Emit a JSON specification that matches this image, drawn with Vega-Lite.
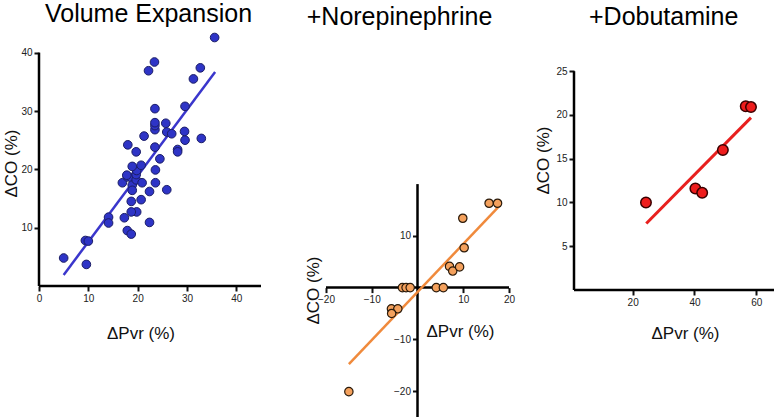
{
  "$schema": "https://vega.github.io/schema/vega-lite/v6.json",
  "padding": {"left": 2, "top": 2, "right": 0, "bottom": 0},
  "spacing": 65,
  "bounds": "flush",
  "config": {
    "view": {"stroke": null},
    "font": "Liberation Sans",
    "axis": {"grid": false, "domain": false, "tickColor": "#111", "tickWidth": 2, "tickSize": 5, "labelFontSize": 10, "labelColor": "#222", "labelPadding": 2, "labelFlush": false, "labelOverlap": false, "titleFontSize": 17, "titleFontWeight": "normal", "titleColor": "#111", "titleFont": "Liberation Sans", "labelFont": "Liberation Sans"}
  },
  "datasets": {
    "ve": [
      {"x": 5.0, "y": 4.8}, {"x": 9.4, "y": 7.8}, {"x": 10.0, "y": 7.7}, {"x": 9.6, "y": 3.7},
      {"x": 14.1, "y": 11.8}, {"x": 14.1, "y": 10.8}, {"x": 17.3, "y": 11.7}, {"x": 17.9, "y": 9.5},
      {"x": 18.7, "y": 8.9}, {"x": 19.8, "y": 12.7}, {"x": 18.7, "y": 12.7}, {"x": 18.7, "y": 14.5},
      {"x": 20.7, "y": 14.8}, {"x": 22.4, "y": 10.9}, {"x": 22.4, "y": 16.2}, {"x": 25.9, "y": 16.5},
      {"x": 16.9, "y": 17.7}, {"x": 17.9, "y": 18.7}, {"x": 18.7, "y": 18.6}, {"x": 18.9, "y": 17.3},
      {"x": 18.9, "y": 16.4}, {"x": 19.7, "y": 18.2}, {"x": 19.7, "y": 19.1}, {"x": 19.8, "y": 19.8},
      {"x": 18.9, "y": 20.5}, {"x": 20.7, "y": 20.7}, {"x": 20.9, "y": 17.7}, {"x": 17.8, "y": 19.0},
      {"x": 18.0, "y": 24.2}, {"x": 19.7, "y": 23.0}, {"x": 21.3, "y": 25.7}, {"x": 23.6, "y": 19.9},
      {"x": 23.6, "y": 17.7}, {"x": 24.5, "y": 21.8}, {"x": 23.5, "y": 23.8}, {"x": 23.5, "y": 26.8},
      {"x": 23.5, "y": 27.5}, {"x": 23.5, "y": 28.0}, {"x": 23.5, "y": 30.4}, {"x": 25.7, "y": 27.9},
      {"x": 25.9, "y": 26.4}, {"x": 26.9, "y": 26.1}, {"x": 28.1, "y": 23.4}, {"x": 28.1, "y": 23.0},
      {"x": 29.5, "y": 26.5}, {"x": 29.6, "y": 25.0}, {"x": 29.6, "y": 30.8}, {"x": 32.9, "y": 25.3},
      {"x": 31.3, "y": 35.5}, {"x": 32.7, "y": 37.4}, {"x": 22.2, "y": 36.9}, {"x": 23.4, "y": 38.4},
      {"x": 35.6, "y": 42.6}
    ],
    "veLine": [{"x": 5.0, "y": 1.9}, {"x": 35.7, "y": 36.7}],
    "ne": [
      {"x": 15.65, "y": 16.3}, {"x": 17.5, "y": 16.3}, {"x": 9.9, "y": 13.4}, {"x": 10.2, "y": 7.7},
      {"x": 7.0, "y": 4.1}, {"x": 7.7, "y": 3.2}, {"x": 9.2, "y": 4.0}, {"x": 4.1, "y": 0},
      {"x": 5.65, "y": 0}, {"x": -3.3, "y": 0}, {"x": -2.5, "y": 0}, {"x": -1.6, "y": 0},
      {"x": -5.7, "y": -4.1}, {"x": -4.3, "y": -4.1}, {"x": -5.65, "y": -5.0}, {"x": -15.0, "y": -20.1}
    ],
    "neLine": [{"x": -15.0, "y": -14.8}, {"x": 17.6, "y": 15.5}],
    "dob": [
      {"x": 24.3, "y": 10.0}, {"x": 40.3, "y": 11.6}, {"x": 42.5, "y": 11.1},
      {"x": 49.2, "y": 16.0}, {"x": 56.6, "y": 21.0}, {"x": 58.3, "y": 20.9}
    ],
    "dobLine": [{"x": 24.4, "y": 7.6}, {"x": 58.3, "y": 19.7}]
  },
  "hconcat": [
    {
      "width": 222,
      "height": 252,
      "title": {"text": "Volume Expansion", "fontSize": 25, "fontWeight": "normal", "font": "Liberation Sans", "baseline": "alphabetic", "offset": -16.1, "dx": -1.5, "anchor": "middle", "color": "#000"},
      "layer": [
        {
          "data": {"values": [{}]},
          "mark": {"type": "rule", "color": "#000", "strokeWidth": 2.5},
          "encoding": {
            "x": {"datum": 0, "type": "quantitative", "scale": {"domain": [0, 45], "nice": false, "zero": false},
                  "axis": {"values": [0, 10, 20, 30, 40], "title": "ΔPvr (%)", "titleX": 101.5, "titleY": 52, "titleAlign": "center", "titleBaseline": "alphabetic"}},
            "y": {"datum": 0, "type": "quantitative", "scale": {"domain": [0, 43.2], "nice": false, "zero": false},
                  "axis": {"values": [10, 20, 30, 40], "title": "ΔCO (%)", "titleX": -23, "titleY": 129, "titleAngle": 270, "titleAlign": "center", "titleBaseline": "alphabetic"}},
            "y2": {"datum": 40}
          }
        },
        {
          "data": {"values": [{}]},
          "mark": {"type": "rule", "color": "#000", "strokeWidth": 2.5},
          "encoding": {
            "x": {"datum": 0, "type": "quantitative"},
            "x2": {"datum": 45},
            "y": {"datum": 0, "type": "quantitative"}
          }
        },
        {
          "data": {"name": "veLine"},
          "mark": {"type": "line", "color": "#3a36cc", "strokeWidth": 2.5},
          "encoding": {
            "x": {"field": "x", "type": "quantitative"},
            "y": {"field": "y", "type": "quantitative"}
          }
        },
        {
          "data": {"name": "ve"},
          "mark": {"type": "point", "shape": "circle", "filled": true, "fill": "#2e34c6", "stroke": "#1b1d66", "strokeWidth": 1, "size": 75, "opacity": 1},
          "encoding": {
            "x": {"field": "x", "type": "quantitative"},
            "y": {"field": "y", "type": "quantitative"}
          }
        }
      ]
    },
    {
      "width": 183,
      "height": 383,
      "title": {"text": "+Norepinephrine", "fontSize": 25, "fontWeight": "normal", "font": "Liberation Sans", "baseline": "alphabetic", "offset": -16.1, "dx": -18, "anchor": "middle", "color": "#000"},
      "layer": [
        {
          "data": {"values": [{}]},
          "mark": {"type": "rule", "color": "#000", "strokeWidth": 2.5},
          "encoding": {
            "x": {"datum": 0, "type": "quantitative", "scale": {"domain": [-20, 20], "nice": false, "zero": false},
                  "axis": {"values": [-20, -10, 10, 20], "offset": -129.4, "title": "ΔPvr (%)", "titleX": 134, "titleY": 48.4, "titleAlign": "center", "titleBaseline": "alphabetic"}},
            "y": {"datum": -25, "type": "quantitative", "scale": {"domain": [-25, 49], "nice": false, "zero": false},
                  "axis": {"values": [-20, -10, 10], "offset": -91.5, "title": "ΔCO (%)", "titleX": -99.5, "titleY": 256, "titleAngle": 270, "titleAlign": "center", "titleBaseline": "alphabetic"}},
            "y2": {"datum": 20}
          }
        },
        {
          "data": {"values": [{}]},
          "mark": {"type": "rule", "color": "#000", "strokeWidth": 2.5},
          "encoding": {
            "x": {"datum": -20, "type": "quantitative"},
            "x2": {"datum": 20},
            "y": {"datum": 0, "type": "quantitative"}
          }
        },
        {
          "data": {"name": "neLine"},
          "mark": {"type": "line", "color": "#f08a3c", "strokeWidth": 2.5},
          "encoding": {
            "x": {"field": "x", "type": "quantitative"},
            "y": {"field": "y", "type": "quantitative"}
          }
        },
        {
          "data": {"name": "ne"},
          "mark": {"type": "point", "shape": "circle", "filled": true, "fill": "#f4a15d", "stroke": "#2a1a0a", "strokeWidth": 1.2, "size": 70, "opacity": 1},
          "encoding": {
            "x": {"field": "x", "type": "quantitative"},
            "y": {"field": "y", "type": "quantitative"}
          }
        }
      ]
    },
    {
      "width": 200,
      "height": 256,
      "title": {"text": "+Dobutamine", "fontSize": 25, "fontWeight": "normal", "font": "Liberation Sans", "baseline": "alphabetic", "offset": -16.1, "dx": -10.3, "anchor": "middle", "color": "#000"},
      "layer": [
        {
          "data": {"values": [{}]},
          "mark": {"type": "rule", "color": "#000", "strokeWidth": 2.5},
          "encoding": {
            "x": {"datum": 1, "type": "quantitative", "scale": {"domain": [1, 65.75], "nice": false, "zero": false},
                  "axis": {"values": [20, 40, 60], "title": "ΔPvr (%)", "titleX": 111, "titleY": 48, "titleAlign": "center", "titleBaseline": "alphabetic"}},
            "y": {"datum": 0, "type": "quantitative", "scale": {"domain": [0, 29.25], "nice": false, "zero": false},
                  "axis": {"values": [5, 10, 15, 20, 25], "title": "ΔCO (%)", "titleX": -25.5, "titleY": 126, "titleAngle": 270, "titleAlign": "center", "titleBaseline": "alphabetic"}},
            "y2": {"datum": 25}
          }
        },
        {
          "data": {"values": [{}]},
          "mark": {"type": "rule", "color": "#000", "strokeWidth": 2.5},
          "encoding": {
            "x": {"datum": 1, "type": "quantitative"},
            "x2": {"datum": 65.75},
            "y": {"datum": 0, "type": "quantitative"}
          }
        },
        {
          "data": {"name": "dobLine"},
          "mark": {"type": "line", "color": "#e8201e", "strokeWidth": 3},
          "encoding": {
            "x": {"field": "x", "type": "quantitative"},
            "y": {"field": "y", "type": "quantitative"}
          }
        },
        {
          "data": {"name": "dob"},
          "mark": {"type": "point", "shape": "circle", "filled": true, "fill": "#ee1c1c", "stroke": "#3a0000", "strokeWidth": 1.5, "size": 110, "opacity": 1},
          "encoding": {
            "x": {"field": "x", "type": "quantitative"},
            "y": {"field": "y", "type": "quantitative"}
          }
        }
      ]
    }
  ]
}
